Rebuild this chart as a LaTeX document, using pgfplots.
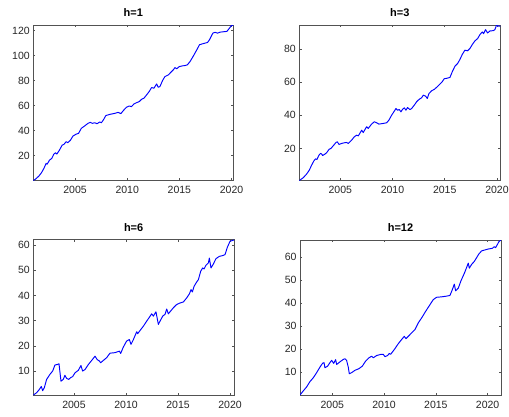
\documentclass[border=0pt]{standalone}
\usepackage{fontspec}
\setmainfont{Liberation Sans}
\usepackage{pgfplots}
\pgfplotsset{compat=1.18}
\definecolor{matgray}{rgb}{0.15,0.15,0.15}
\pgfplotsset{
  mat/.style={
    scale only axis,
    no markers,
    axis line style={draw=matgray!80, line width=0.6pt},
    tick style={draw=matgray!80, line width=0.6pt},
    tick align=inside,
    major tick length=2.2pt,
    xtick={2005,2010,2015,2020},
    /pgf/number format/1000 sep={},
    /pgf/number format/assume math mode=true,
    ticklabel style={font=\fontsize{10.5}{12}\selectfont, text=matgray},
    xticklabel style={yshift=-2.5pt},
    title style={font=\bfseries\fontsize{11}{13}\selectfont, text=black, yshift=-1pt},
    every axis plot/.append style={blue, mark=none, line width=0.95pt, line join=round},
  }
}
\begin{document}
\begin{tikzpicture}
\useasboundingbox (0,0) rectangle (509pt,-416pt);
% h=1
\begin{axis}[mat, at={(33.3pt,-180.5pt)}, anchor=south west, width=200pt, height=155.5pt,
  xmin=2001.0, xmax=2020.17, ymin=0, ymax=124.6, ytick={20,40,60,80,100,120}, title={h=1}]
\addplot coordinates {
(2001.00,0) (2001.21,1.1) (2001.53,3.5) (2001.78,6.2) (2002.01,9.6) (2002.23,13.7) (2002.33,13.1)
(2002.55,16.3) (2002.77,17.7) (2002.97,21.2) (2003.13,22.2) (2003.26,21.2) (2003.51,24.4)
(2003.77,28.4) (2003.93,28.9) (2004.15,31.1) (2004.31,30.3) (2004.57,32.4) (2004.80,35.6)
(2005.12,37.2) (2005.34,37.8) (2005.60,41.8) (2005.92,43.7) (2006.24,45.8) (2006.47,46.6)
(2006.66,45.8) (2006.89,46.3) (2007.11,45.5) (2007.37,46.9) (2007.53,46.3) (2007.75,49.0)
(2007.95,52.0) (2008.33,53.0) (2008.81,53.8) (2009.13,54.6) (2009.39,53.6) (2009.68,56.5)
(2009.93,58.7) (2010.19,59.7) (2010.41,59.2) (2010.64,61.3) (2010.90,62.4) (2011.15,63.2)
(2011.38,65.1) (2011.60,65.9) (2011.86,68.6) (2012.11,71.3) (2012.34,74.5) (2012.56,73.9)
(2012.82,77.4) (2012.98,74.7) (2013.14,75.3) (2013.39,80.1) (2013.62,83.3) (2013.94,84.6)
(2014.16,86.5) (2014.42,88.7) (2014.58,90.5) (2014.74,89.5) (2015.00,91.3) (2015.32,91.9)
(2015.54,92.1) (2015.77,92.7) (2016.03,95.4) (2016.35,99.9) (2016.67,104.7) (2016.93,108.8)
(2017.25,109.6) (2017.47,110.1) (2017.70,110.6) (2017.89,112.8) (2018.21,118.1) (2018.43,118.7)
(2018.66,118.1) (2018.92,118.9) (2019.24,119.2) (2019.56,119.5) (2019.81,122.2) (2019.97,124.0)
(2020.17,124.6)
};
\end{axis}
% h=3
\begin{axis}[mat, at={(299.3pt,-180.5pt)}, anchor=south west, width=201pt, height=155.5pt,
  xmin=2001.08, xmax=2020.32, ymin=0.6, ymax=94.6, ytick={20,40,60,80}, title={h=3}]
\addplot coordinates {
(2001.08,0.6) (2001.46,2.3) (2001.78,4.5) (2002.04,6.9) (2002.26,9.9) (2002.48,12.5) (2002.64,13.7)
(2002.77,13.3) (2002.96,15.9) (2003.12,17.0) (2003.22,16.6) (2003.31,15.7) (2003.54,16.6)
(2003.70,17.4) (2003.92,19.4) (2004.11,20.0) (2004.33,21.6) (2004.59,23.6) (2004.72,24.0)
(2004.88,22.4) (2005.13,23.0) (2005.39,23.4) (2005.61,23.6) (2005.77,23.0) (2006.09,25.0)
(2006.34,27.0) (2006.57,28.0) (2006.73,27.6) (2007.05,31.0) (2007.20,29.6) (2007.52,33.1)
(2007.68,32.1) (2008.00,34.7) (2008.26,36.1) (2008.48,35.5) (2008.70,34.7) (2009.12,35.1)
(2009.44,35.5) (2009.66,37.1) (2009.92,40.1) (2010.17,42.5) (2010.33,44.1) (2010.49,43.1)
(2010.65,43.5) (2010.81,42.1) (2010.97,43.7) (2011.13,44.5) (2011.29,43.1) (2011.44,44.7)
(2011.67,43.5) (2011.83,44.1) (2012.08,46.1) (2012.31,48.2) (2012.47,49.2) (2012.63,50.0)
(2012.79,50.6) (2012.95,52.2) (2013.17,51.6) (2013.33,50.2) (2013.49,53.2) (2013.74,54.8)
(2014.00,55.7) (2014.22,56.9) (2014.54,58.9) (2014.76,60.3) (2014.95,62.1) (2015.27,62.5)
(2015.50,62.9) (2015.72,66.3) (2015.98,69.7) (2016.23,71.3) (2016.45,73.7) (2016.68,76.8)
(2016.93,79.4) (2017.19,79.0) (2017.41,80.4) (2017.64,82.8) (2017.89,85.0) (2018.15,86.4)
(2018.37,88.8) (2018.59,90.4) (2018.72,89.4) (2018.91,91.8) (2019.10,89.8) (2019.33,91.0)
(2019.65,91.2) (2019.80,91.8) (2019.96,94.5) (2020.12,93.9) (2020.32,93.9)
};
\end{axis}
% h=6
\begin{axis}[mat, at={(33.3pt,-395pt)}, anchor=south west, width=200.7pt, height=155.3pt,
  xmin=2001.09, xmax=2020.38, ymin=0.5, ymax=62.1, ytick={10,20,30,40,50,60}, title={h=6}]
\addplot coordinates {
(2001.09,0.5) (2001.41,1.4) (2001.67,2.7) (2001.86,3.9) (2001.99,2.2) (2002.15,3.4) (2002.37,6.7)
(2002.69,8.7) (2002.95,10.0) (2003.17,12.4) (2003.40,12.6) (2003.56,12.9) (2003.75,6.0)
(2003.97,6.7) (2004.13,8.3) (2004.29,7.1) (2004.49,6.7) (2004.68,7.4) (2004.87,7.8)
(2005.10,9.3) (2005.42,10.3) (2005.67,12.2) (2005.83,10.0) (2006.06,10.6) (2006.38,12.6)
(2006.70,14.2) (2007.02,15.9) (2007.24,14.5) (2007.44,14.0) (2007.56,13.3) (2007.82,14.2)
(2008.14,15.3) (2008.46,17.1) (2008.94,17.3) (2009.36,17.9) (2009.49,17.0) (2009.74,19.5)
(2010.06,21.9) (2010.32,22.5) (2010.48,20.6) (2010.71,22.5) (2011.03,25.6) (2011.12,24.8)
(2011.35,26.1) (2011.67,27.8) (2011.99,29.8) (2012.47,32.7) (2012.63,31.8) (2012.88,33.5)
(2013.11,28.5) (2013.27,29.8) (2013.53,31.8) (2013.75,32.5) (2013.91,34.6) (2014.07,32.7)
(2014.29,33.8) (2014.55,35.1) (2014.87,36.4) (2015.19,37.0) (2015.51,37.4) (2015.83,39.0)
(2016.09,40.6) (2016.25,42.3) (2016.38,41.4) (2016.54,43.6) (2016.79,45.3) (2016.96,46.3)
(2017.18,49.6) (2017.37,50.9) (2017.50,50.5) (2017.69,52.0) (2017.92,52.9) (2018.01,54.8)
(2018.17,50.9) (2018.40,52.5) (2018.65,54.6) (2018.97,55.5) (2019.29,55.8) (2019.52,56.2)
(2019.74,59.1) (2020.00,61.5) (2020.38,62.0)
};
\end{axis}
% h=12
\begin{axis}[mat, at={(300pt,-395pt)}, anchor=south west, width=201pt, height=155pt,
  xmin=2001.88, xmax=2021.29, ymin=0.2, ymax=67.3, ytick={10,20,30,40,50,60}, title={h=12}]
\addplot coordinates {
(2001.88,0.2) (2002.20,2.0) (2002.52,3.7) (2002.84,6.0) (2003.17,7.7) (2003.49,9.9) (2003.81,12.3)
(2004.07,14.0) (2004.20,14.2) (2004.29,12.0) (2004.55,12.7) (2004.77,14.2) (2004.94,15.2)
(2005.13,13.9) (2005.32,15.5) (2005.42,13.4) (2005.64,14.2) (2005.84,14.9) (2006.06,15.6)
(2006.22,15.9) (2006.38,15.2) (2006.54,12.3) (2006.64,9.4) (2006.87,9.9) (2007.19,10.9)
(2007.57,11.6) (2007.90,12.7) (2008.22,14.9) (2008.54,16.3) (2008.80,17.0) (2008.96,16.3)
(2009.28,17.3) (2009.70,17.8) (2009.92,17.8) (2010.09,16.8) (2010.34,17.3) (2010.50,18.2)
(2010.63,17.8) (2010.99,19.9) (2011.37,22.4) (2011.69,24.2) (2011.95,25.6) (2012.11,24.6)
(2012.34,25.6) (2012.66,27.1) (2012.98,28.5) (2013.30,31.4) (2013.63,33.6) (2014.01,36.4)
(2014.43,39.3) (2014.75,41.5) (2015.07,42.5) (2015.56,42.7) (2016.04,43.0) (2016.36,43.3)
(2016.59,45.8) (2016.78,48.2) (2016.91,45.3) (2017.17,46.5) (2017.42,49.6) (2017.75,52.9)
(2017.97,55.4) (2018.13,57.3) (2018.23,55.1) (2018.46,56.8) (2018.71,58.0) (2018.94,59.7)
(2019.16,61.3) (2019.42,62.6) (2019.74,63.0) (2020.06,63.4) (2020.45,63.7) (2020.64,64.4)
(2020.77,64.0) (2020.96,65.5) (2021.09,66.6) (2021.29,67.3)
};
\end{axis}
\end{tikzpicture}
\end{document}
